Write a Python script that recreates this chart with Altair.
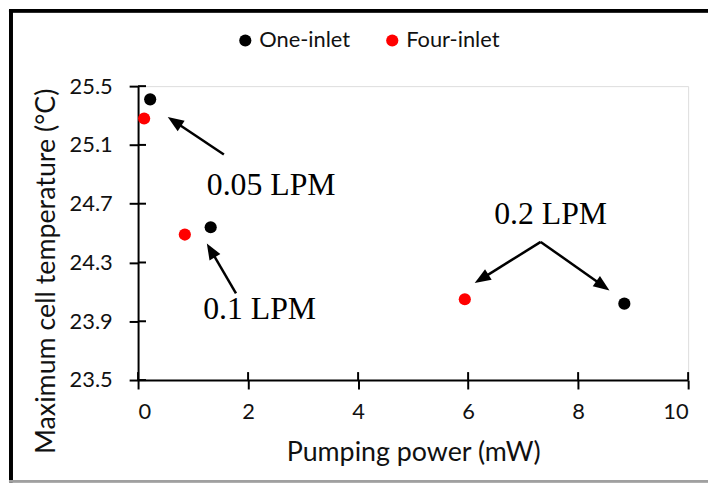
import math
import altair as alt
import pandas as pd

# ---- data ----
series = ["One-inlet", "One-inlet", "One-inlet", "Four-inlet", "Four-inlet", "Four-inlet"]
power = [0.22, 1.32, 8.84, 0.11, 0.85, 5.94]
temp = [25.41, 24.54, 24.02, 25.28, 24.49, 24.05]

x_ticks = [0, 2, 4, 6, 8, 10]
y_ticks = [23.5, 23.9, 24.3, 24.7, 25.1, 25.5]

label_text = ["0.05 LPM", "0.1 LPM", "0.2 LPM"]
label_x = [2.42, 2.21, 7.50]
label_y = [24.83, 23.98, 24.63]

arrow_x1 = [1.56, 1.78, 7.32, 7.32]
arrow_y1 = [25.035, 24.09, 24.44, 24.44]
arrow_x2 = [0.54, 1.25, 6.12, 8.57]
arrow_y2 = [25.29, 24.43, 24.16, 24.11]

W, H = 554, 296
XD = [0, 10]
YD = [23.5, 25.5]
HEAD_R = 9  # px from arrowhead centre to tip

# ---- tables ----
pts = pd.DataFrame({"series": series, "power": power, "temp": temp})
labels = pd.DataFrame({"t": label_text, "x": label_x, "y": label_y})

kx = W / (XD[1] - XD[0])
ky = H / (YD[1] - YD[0])
rows = []
for x1, y1, x2, y2 in zip(arrow_x1, arrow_y1, arrow_x2, arrow_y2):
    dx = (x2 - x1) * kx
    dy = -(y2 - y1) * ky
    L = math.hypot(dx, dy)
    ux, uy = dx / L, dy / L
    hx = x2 - ux * HEAD_R / kx
    hy = y2 + uy * HEAD_R / ky
    ang = math.degrees(math.atan2(dx, -dy)) % 360
    rows.append({"x1": x1, "y1": y1, "hx": hx, "hy": hy, "ang": ang})
arrows = pd.DataFrame(rows)
xt = pd.DataFrame({"v": x_ticks})
yt = pd.DataFrame({"v": y_ticks})

xscale = alt.Scale(domain=XD, nice=False, zero=False)
yscale = alt.Scale(domain=YD, nice=False, zero=False)

SANS = "Lato"

xaxis = alt.Axis(values=x_ticks, title="Pumping power (mW)", grid=False,
                 domainColor="black", domainWidth=2, tickColor="black", tickWidth=2,
                 tickSize=9, labelPadding=13, labelFont=SANS, labelFontSize=22,
                 labelColor="#111", titleFont=SANS, titleFontSize=27,
                 titleFontWeight="normal", titleColor="#111", titlePadding=17)
yaxis = alt.Axis(values=y_ticks, title="Maximum cell temperature (°C)", grid=False,
                 format=".1f",
                 domainColor="black", domainWidth=2, tickColor="black", tickWidth=2,
                 tickSize=9, labelPadding=17, labelFont=SANS, labelFontSize=22,
                 labelColor="#111", titleFont=SANS, titleFontSize=27,
                 titleFontWeight="normal", titleColor="#111",
                 titleX=-84, titleY=186, titleAlign="center",
                 titleBaseline="alphabetic", titleAngle=270)

points = alt.Chart(pts).mark_circle(size=150, opacity=1).encode(
    x=alt.X("power:Q", scale=xscale, axis=xaxis),
    y=alt.Y("temp:Q", scale=yscale, axis=yaxis),
    color=alt.Color("series:N",
                    scale=alt.Scale(domain=["One-inlet", "Four-inlet"],
                                    range=["#000000", "#ff0000"]),
                    legend=alt.Legend(title=None, orient="none", direction="horizontal",
                                      legendX=97, legendY=-57, padding=0,
                                      symbolType="circle", symbolSize=150,
                                      labelFont=SANS, labelFontSize=22,
                                      labelColor="#111", labelOffset=3,
                                      columnPadding=31)),
)

ytick_in = alt.Chart(yt).mark_rule(color="black", strokeWidth=2).encode(
    y=alt.Y("v:Q", scale=yscale), x=alt.value(0), x2=alt.value(8))
xtick_in = alt.Chart(xt).mark_rule(color="black", strokeWidth=2).encode(
    x=alt.X("v:Q", scale=xscale), y=alt.value(H), y2=alt.value(H - 8))

shafts = alt.Chart(arrows).mark_rule(color="black", strokeWidth=2.5).encode(
    x=alt.X("x1:Q", scale=xscale), y=alt.Y("y1:Q", scale=yscale),
    x2="hx:Q", y2="hy:Q")
heads = alt.Chart(arrows).mark_point(
    shape="M0,-1L-0.7,0.8L0.7,0.8Z", filled=True, color="black", opacity=1,
    size=(2 * HEAD_R) ** 2).encode(
    x=alt.X("hx:Q", scale=xscale), y=alt.Y("hy:Q", scale=yscale),
    angle=alt.Angle("ang:Q", scale=None))

texts = alt.Chart(labels).mark_text(font="Liberation Serif", fontSize=32,
                                    color="black", baseline="middle").encode(
    x=alt.X("x:Q", scale=xscale), y=alt.Y("y:Q", scale=yscale), text="t:N")

# frame around the figure
frame_left = alt.Chart(xt).mark_rule(color="black", strokeWidth=3).encode(
    x=alt.value(-128), y=alt.value(-77), y2=alt.value(399))
frame_top = alt.Chart(xt).mark_rule(color="black", strokeWidth=3).encode(
    x=alt.value(-130), x2=alt.value(580), y=alt.value(-76))
frame_bottom = alt.Chart(xt).mark_rule(color="#a0a0a0", strokeWidth=2).encode(
    x=alt.value(-130), x2=alt.value(580), y=alt.value(398))

chart = alt.layer(
    frame_left, frame_top, frame_bottom,
    ytick_in, xtick_in, shafts, heads, texts, points
).properties(
    width=W, height=H,
    autosize=alt.AutoSizeParams(type="none"),
    padding={"left": 131, "top": 77, "right": 20, "bottom": 103},
).configure_view(stroke=None).configure(background="white")

chart.save("out.html", embed_options={"renderer": "svg", "actions": False})
